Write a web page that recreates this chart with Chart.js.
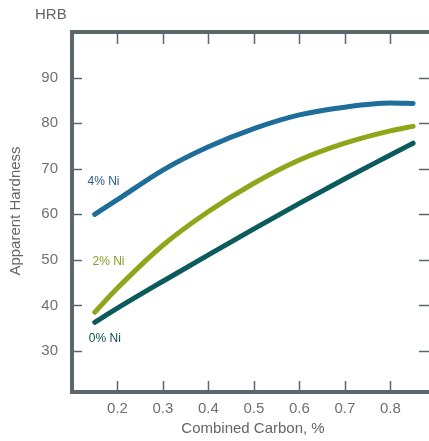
<!DOCTYPE html>
<html>
<head>
<meta charset="utf-8">
<script src="https://cdn.jsdelivr.net/npm/chart.js@4"></script>
<style>
  html, body { margin: 0; padding: 0; background: #fff; overflow: hidden; }
  #wrap { width: 429px; height: 441px; }
</style>
</head>
<body>
<div id="wrap"><canvas id="hardness"></canvas></div>
<script>
// combined carbon, %
const carbon = [0.15, 0.2, 0.3, 0.4, 0.5, 0.6, 0.7, 0.8, 0.85];
// apparent hardness, HRB
const ni0 = [36.3, 39.4, 45.3, 51.1, 56.8, 62.4, 67.8, 73.0, 75.6];
const ni2 = [38.5, 43.8, 53.2, 60.6, 66.8, 71.9, 75.6, 78.3, 79.3];
const ni4 = [60.0, 63.2, 69.7, 74.8, 78.8, 81.8, 83.5, 84.4, 84.3];
const seriesNames = ['4% Ni', '2% Ni', '0% Ni'];
const xTicks = [0.2, 0.3, 0.4, 0.5, 0.6, 0.7, 0.8];
const yTicks = [30, 40, 50, 60, 70, 80, 90];

const frameColor = '#5b676c';
const labelFont = 'Liberation Sans, Arial, sans-serif';

const pts = (ys) => carbon.map((c, i) => ({ x: c, y: ys[i] }));

function line(label, ys, color) {
    return {
        label: label,
        data: pts(ys),
        borderColor: color,
        borderWidth: 5,
        borderCapStyle: 'round',
        pointRadius: 0,
        cubicInterpolationMode: 'monotone',
        fill: false
    };
}

// frame, inward tick marks, axis titles and curve labels
const frame = {
    id: 'frame',
    afterDraw(chart) {
        const { ctx, chartArea: a, scales } = chart;
        const x = scales.x, y = scales.y;
        ctx.save();
        ctx.strokeStyle = frameColor;
        ctx.lineWidth = 1.5;
        ctx.beginPath();
        xTicks.forEach(v => {
            const px = Math.round(x.getPixelForValue(v)) + 0.5;
            ctx.moveTo(px, a.bottom); ctx.lineTo(px, a.bottom - 11);
            ctx.moveTo(px, a.top); ctx.lineTo(px, a.top + 12);
        });
        yTicks.forEach(v => {
            const py = Math.round(y.getPixelForValue(v)) + 0.5;
            ctx.moveTo(a.left, py); ctx.lineTo(a.left + 10, py);
            ctx.moveTo(a.right, py); ctx.lineTo(a.right - 10, py);
        });
        ctx.stroke();

        ctx.lineWidth = 4;
        ctx.lineCap = 'square';
        ctx.beginPath();
        ctx.moveTo(a.right, a.top);
        ctx.lineTo(a.left, a.top);
        ctx.lineTo(a.left, a.bottom);
        ctx.lineTo(a.right, a.bottom);
        ctx.stroke();

        ctx.fillStyle = '#666';
        ctx.font = '15px ' + labelFont;
        ctx.textBaseline = 'middle';
        ctx.textAlign = 'left';
        ctx.fillText('HRB', 35, 15);
        ctx.textAlign = 'center';
        ctx.fillText('Combined Carbon, %', 253, 429);
        ctx.save();
        ctx.translate(16, 211);
        ctx.rotate(-Math.PI / 2);
        ctx.font = '15px ' + labelFont;
        ctx.fillText('Apparent Hardness', 0, 0);
        ctx.restore();

        ctx.font = '12px ' + labelFont;
        ctx.textAlign = 'left';
        const tags = [[0.134, 67.1], [0.145, 49.5], [0.137, 32.8]];
        const tagColors = ['#235f85', '#8a9c22', '#0f5254'];
        chart.data.datasets.forEach((ds, i) => {
            ctx.fillStyle = tagColors[i];
            ctx.fillText(ds.label, x.getPixelForValue(tags[i][0]), y.getPixelForValue(tags[i][1]));
        });
        ctx.restore();
    }
};

new Chart(document.getElementById('hardness'), {
    type: 'line',
    data: {
        datasets: [
            line(seriesNames[0], ni4, '#1d6e98'),
            line(seriesNames[1], ni2, '#8fa61a'),
            line(seriesNames[2], ni0, '#0c5b5c')
        ]
    },
    options: {
        responsive: true,
        maintainAspectRatio: false,
        animation: false,
        layout: { padding: { top: 32, right: 0, left: 0, bottom: 0 } },
        plugins: {
            legend: { display: false },
            tooltip: { enabled: false }
        },
        scales: {
            x: {
                type: 'linear',
                min: 0.1,
                max: 0.885,
                grid: { display: false, drawTicks: false },
                border: { display: false },
                afterBuildTicks: s => { s.ticks = xTicks.map(v => ({ value: v })); },
                afterFit: s => { s.height = 49; },
                ticks: {
                    padding: 8,
                    color: '#707070',
                    font: { family: labelFont, size: 15 },
                    callback: v => v.toFixed(1)
                }
            },
            y: {
                min: 21,
                max: 100,
                grid: { display: false, drawTicks: false },
                border: { display: false },
                afterBuildTicks: s => { s.ticks = yTicks.map(v => ({ value: v })); },
                afterFit: s => { s.width = 72; },
                ticks: {
                    padding: 14,
                    color: '#707070',
                    font: { family: labelFont, size: 15 }
                }
            }
        }
    },
    plugins: [frame]
});
</script>
</body>
</html>
